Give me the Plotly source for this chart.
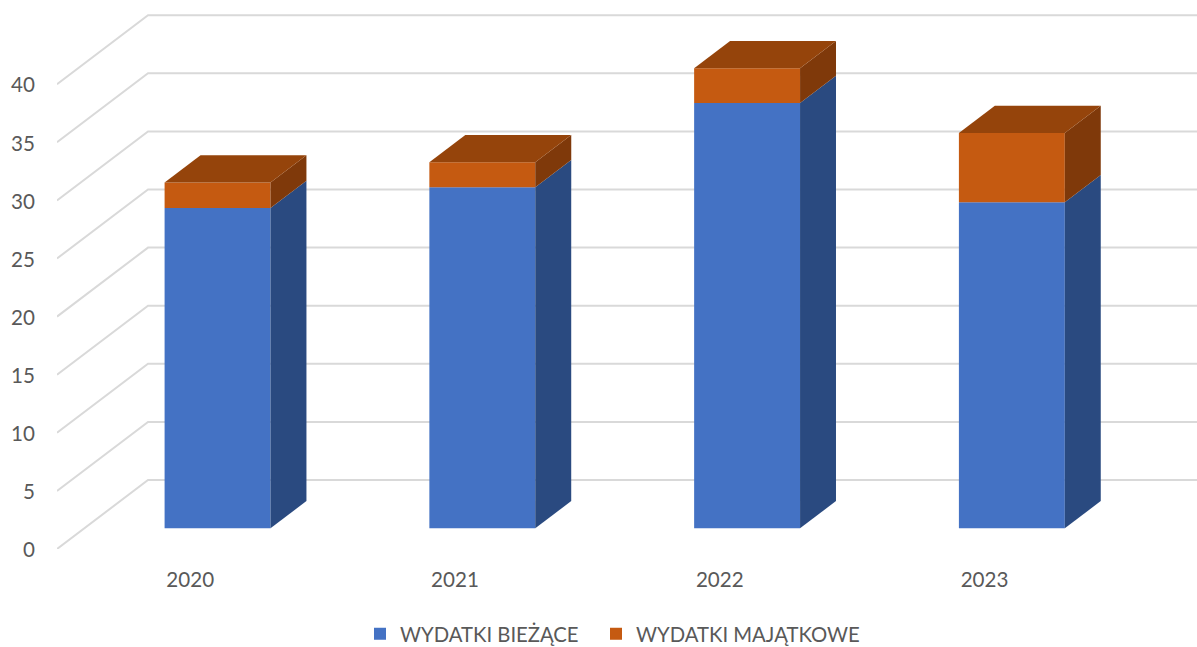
import plotly.graph_objects as go

years = ["2020", "2021", "2022", "2023"]
current = [27.56, 29.35, 36.6, 28.05]
capital = [2.19, 2.15, 3.0, 5.96]
y_ticks = [0, 5, 10, 15, 20, 25, 30, 35, 40]

PX_X = 264.7      # pixels per category
PX_Y = 11.62      # pixels per value unit
X0_PX, Y0_PX, LEFT_PX = 190.5, 549.0, 57.3
W, H = 1197, 647
DX, DY = 91 / PX_X, 69 / PX_Y     # full floor depth in data units
D_FRONT, D_BACK = 0.30, 0.695     # bar depth position as fraction of floor depth
BAR_W = 0.40
xmin, xmax = (LEFT_PX - X0_PX) / PX_X, (W - X0_PX) / PX_X
ymax = Y0_PX / PX_Y

BLUE, BLUE_SIDE = "#4472C4", "#2A4A80"
ORANGE, ORANGE_SIDE, ORANGE_TOP = "#C55A11", "#7F390A", "#95440B"
GRID, TEXT = "#D9D9D9", "#595959"
FONT = "Lato"


def poly(xs, ys, color):
    return go.Scatter(x=xs, y=ys, mode="lines", fill="toself", fillcolor=color,
                      line=dict(width=0, color=color), showlegend=False, hoverinfo="skip")


fig = go.Figure()
xpos = [i + DX * D_FRONT for i in range(len(years))]
yshift = DY * D_FRONT
fig.add_bar(x=xpos, y=current, base=[yshift] * len(years), width=BAR_W,
            marker=dict(color=BLUE, line_width=0), name="WYDATKI BIEŻĄCE", legend="legend")
fig.add_bar(x=xpos, y=capital, base=[yshift + c for c in current], width=BAR_W,
            marker=dict(color=ORANGE, line_width=0), name="WYDATKI MAJĄTKOWE", legend="legend2")

sx = DX * (D_BACK - D_FRONT)
sy = DY * (D_BACK - D_FRONT)
for xc, a, b in zip(xpos, current, capital):
    xr = xc + BAR_W / 2
    xl = xc - BAR_W / 2
    y1 = yshift + a
    y2 = y1 + b
    fig.add_trace(poly([xr, xr + sx, xr + sx, xr, xr], [yshift, yshift + sy, y1 + sy, y1, yshift], BLUE_SIDE))
    fig.add_trace(poly([xr, xr + sx, xr + sx, xr, xr], [y1, y1 + sy, y2 + sy, y2, y1], ORANGE_SIDE))
    fig.add_trace(poly([xl, xr, xr + sx, xl + sx, xl], [y2, y2, y2 + sy, y2 + sy, y2], ORANGE_TOP))

shapes = [dict(type="path", layer="below", xref="x", yref="y",
               path=f"M{xmin},{v} L{xmin + DX},{v + DY} L{xmax},{v + DY}",
               line=dict(color=GRID, width=2)) for v in y_ticks]

legend_common = dict(orientation="h", xref="container", xanchor="left", yref="container",
                     y=0.02, yanchor="middle", font=dict(size=20.3, color=TEXT),
                     bgcolor="rgba(0,0,0,0)")
fig.update_layout(
    width=W, height=H, margin=dict(l=LEFT_PX, r=0, t=0, b=H - Y0_PX),
    paper_bgcolor="white", plot_bgcolor="white", barmode="overlay",
    font=dict(family=FONT, size=20.6, color=TEXT), shapes=shapes,
    xaxis=dict(range=[xmin, xmax], tickvals=list(range(len(years))), ticktext=years,
               showgrid=False, zeroline=False, showline=False, ticks="",
               ticklabelstandoff=16),
    yaxis=dict(range=[0, ymax], tickvals=y_ticks, showgrid=False, zeroline=False,
               showline=False, ticks="", ticklabelstandoff=21, ticklabelshift=1),
    legend=dict(x=360 / W, **legend_common),
    legend2=dict(x=596 / W, **legend_common),
)
fig.write_html("out.html", config=dict(displayModeBar=False),
               post_script="document.body.style.margin='0';")
